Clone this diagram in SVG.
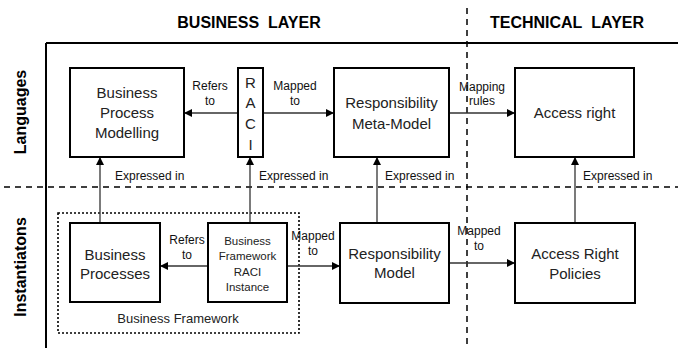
<svg xmlns="http://www.w3.org/2000/svg" width="678" height="349" viewBox="0 0 678 349">
<defs>
<style>
.box{fill:#fff;stroke:#000;stroke-width:2}
.bt{font-family:"Liberation Sans",Arial,sans-serif;font-size:15px;fill:#222;text-anchor:middle}
.st{font-family:"Liberation Sans",Arial,sans-serif;font-size:11.5px;fill:#222;text-anchor:middle}
.lb{font-family:"Liberation Sans",Arial,sans-serif;font-size:12px;fill:#111;text-anchor:middle}
.lbl{font-family:"Liberation Sans",Arial,sans-serif;font-size:12px;fill:#111}
.hd{font-family:"Liberation Sans",Arial,sans-serif;font-size:16px;font-weight:bold;fill:#000}
.con{stroke:#333;stroke-width:1.3;fill:none}
.dash{stroke:#000;stroke-width:1.5;stroke-dasharray:6,5;fill:none}
</style>
<marker id="ah" viewBox="0 0 10 10" refX="10" refY="5" markerWidth="8" markerHeight="8" markerUnits="userSpaceOnUse" orient="auto">
<path d="M0,0 L10,5 L0,10 z" fill="#000"/>
</marker>
</defs>
<rect width="678" height="349" fill="#fff"/>
<g id="frame">
<line x1="46" y1="43" x2="678" y2="43" stroke="#000" stroke-width="2"/>
<line x1="46" y1="43" x2="46" y2="348" stroke="#000" stroke-width="2"/>
<line class="dash" x1="467" y1="8" x2="467" y2="346"/>
<line class="dash" x1="4" y1="187" x2="678" y2="187"/>
<text class="hd" x="249" y="28" text-anchor="middle">BUSINESS&#160; LAYER</text>
<text class="hd" x="567" y="28" text-anchor="middle">TECHNICAL&#160; LAYER</text>
<text class="hd" transform="translate(26,112) rotate(-90)" text-anchor="middle">Languages</text>
<text class="hd" transform="translate(26,267) rotate(-90)" text-anchor="middle">Instantiatons</text>
</g>
<g id="business-framework">
<rect x="58" y="213" width="241" height="120" fill="none" stroke="#000" stroke-width="1.6" stroke-dasharray="2,2"/>
<text class="bt" x="178" y="323" style="font-size:13px">Business Framework</text>
</g>
<g id="connectors">
<line class="con" x1="238" y1="113" x2="184" y2="113" marker-end="url(#ah)"/>
<line class="con" x1="263" y1="113" x2="334" y2="113" marker-end="url(#ah)"/>
<line class="con" x1="449" y1="113" x2="515" y2="113" marker-end="url(#ah)"/>
<line class="con" x1="100" y1="223" x2="100" y2="157" marker-end="url(#ah)"/>
<line class="con" x1="250" y1="223" x2="250" y2="157" marker-end="url(#ah)"/>
<line class="con" x1="377" y1="223" x2="377" y2="157" marker-end="url(#ah)"/>
<line class="con" x1="575" y1="223" x2="575" y2="157" marker-end="url(#ah)"/>
<line class="con" x1="208" y1="266" x2="160" y2="266" marker-end="url(#ah)"/>
<line class="con" x1="287" y1="266" x2="340" y2="266" marker-end="url(#ah)"/>
<line class="con" x1="449" y1="263" x2="515" y2="263" marker-end="url(#ah)"/>
<text class="lb" x="210" y="90">Refers</text>
<text class="lb" x="210" y="105">to</text>
<text class="lb" x="295" y="90">Mapped</text>
<text class="lb" x="295" y="105">to</text>
<text class="lb" x="482" y="91">Mapping</text>
<text class="lb" x="482" y="105">rules</text>
<text class="lb" x="187" y="244">Refers</text>
<text class="lb" x="187" y="259">to</text>
<text class="lb" x="313" y="240">Mapped</text>
<text class="lb" x="313" y="255">to</text>
<text class="lb" x="479" y="235">Mapped</text>
<text class="lb" x="479" y="250">to</text>
<text class="lbl" x="115" y="180">Expressed in</text>
<text class="lbl" x="259" y="180">Expressed in</text>
<text class="lbl" x="385" y="180">Expressed in</text>
<text class="lbl" x="583" y="180">Expressed in</text>
</g>
<g id="bpm">
<rect class="box" x="70" y="68" width="114" height="89"/>
<text class="bt" x="127" y="98">Business</text>
<text class="bt" x="127" y="118">Process</text>
<text class="bt" x="127" y="138">Modelling</text>
</g>
<g id="raci">
<rect class="box" x="238" y="68" width="25" height="89"/>
<text class="bt" x="250.5" y="88">R</text>
<text class="bt" x="250.5" y="108">A</text>
<text class="bt" x="250.5" y="129">C</text>
<text class="bt" x="250.5" y="150">I</text>
</g>
<g id="rmm">
<rect class="box" x="334" y="68" width="115" height="89"/>
<text class="bt" x="391.5" y="108">Responsibility</text>
<text class="bt" x="391.5" y="129">Meta-Model</text>
</g>
<g id="access-right">
<rect class="box" x="515" y="68" width="119" height="89"/>
<text class="bt" x="574.5" y="118">Access right</text>
</g>
<g id="bp">
<rect class="box" x="70" y="223" width="90" height="79"/>
<text class="bt" x="115" y="260">Business</text>
<text class="bt" x="115" y="279">Processes</text>
</g>
<g id="bf-raci">
<rect class="box" x="208" y="223" width="79" height="79"/>
<text class="st" x="247.5" y="245">Business</text>
<text class="st" x="247.5" y="260">Framework</text>
<text class="st" x="247.5" y="276">RACI</text>
<text class="st" x="247.5" y="291">Instance</text>
</g>
<g id="rm">
<rect class="box" x="340" y="223" width="109" height="80"/>
<text class="bt" x="394.5" y="259">Responsibility</text>
<text class="bt" x="394.5" y="278">Model</text>
</g>
<g id="arp">
<rect class="box" x="515" y="223" width="120" height="80"/>
<text class="bt" x="575" y="259">Access Right</text>
<text class="bt" x="575" y="279">Policies</text>
</g>
</svg>
